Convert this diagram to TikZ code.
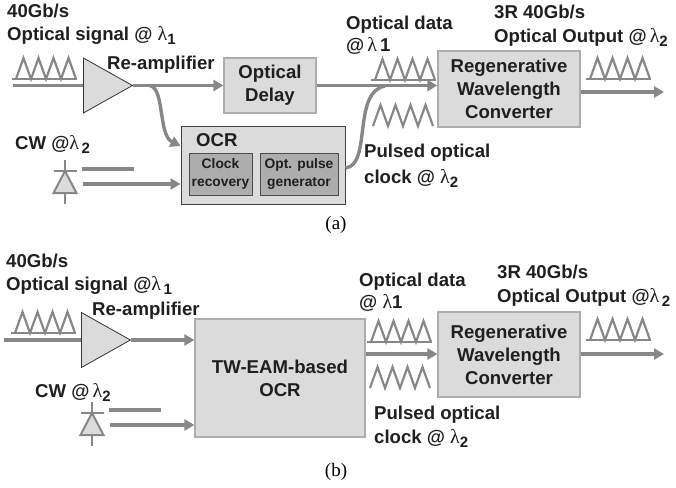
\documentclass[tikz,border=0pt]{standalone}
\usepackage{fontspec}
\setmainfont{Liberation Sans}
\newfontfamily\lamfont{Liberation Serif}
\newfontfamily\capfont{Liberation Serif}
\usetikzlibrary{arrows.meta,positioning,shapes.geometric}
\definecolor{sigline}{gray}{0.53}
\definecolor{boxfill}{gray}{0.86}
\definecolor{boxline}{gray}{0.68}
\definecolor{innerfill}{gray}{0.68}
\definecolor{txt}{gray}{0.12}
\newcommand{\lam}{{\lamfont\mdseries\fontsize{20}{20}\selectfont λ}}
\newcommand{\lamsub}[1]{\lam\raisebox{-4pt}{\fontsize{15}{15}\selectfont #1}}
\tikzset{
    x=1pt,y=-1pt,
    lbl/.style={inner sep=0pt,anchor=base west,text=txt,font=\fontsize{18.6}{22}\selectfont\bfseries},
    nextline/.style={anchor=base west},
    sig/.style={-{Triangle[length=10pt,width=11pt]},line width=3.4pt,draw=sigline},
    bare/.style={line width=3.4pt,draw=sigline},
    wave/.style={line width=2.2pt,draw=sigline,line join=miter},
    block/.style={draw=boxline,line width=1.2pt,fill=boxfill,inner sep=0pt,align=center,text=txt,font=\fontsize{18.6}{23}\selectfont\bfseries},
    ocrbox/.style={draw=black!75,line width=1pt,fill=boxfill,inner sep=0pt},
    inner/.style={draw=black!70,line width=1pt,fill=innerfill,inner sep=0pt,align=center,text=txt,font=\fontsize{13.8}{17.5}\selectfont\bfseries},
    amp/.style={isosceles triangle,isosceles triangle stretches,draw=black!80,line width=0.8pt,fill=boxfill,
        minimum width=55pt,minimum height=49pt,inner sep=0pt,anchor=lower side},
    caption/.style={inner sep=0pt,text=black,font=\capfont\fontsize{19}{19}\selectfont},
    % train of four pulses, with or without the base line
    pics/pulses/.style={code={
        \draw[wave] (0,0) -- ++(7.5,-21) -- ++(7.5,21) -- ++(7.5,-21) -- ++(7.5,21)
            -- ++(7.5,-21) -- ++(7.5,21) -- ++(7.5,-21) -- ++(7.5,21);
    }},
    pics/pulsesbase/.style={code={
        \draw[wave] (-2,0) -- (63,0);
        \draw[wave] (2,0) -- ++(7.5,-21) -- ++(7.5,21) -- ++(7.5,-21) -- ++(7.5,21)
            -- ++(7.5,-21) -- ++(7.5,21) -- ++(7.5,-21) -- ++(7.5,21);
    }},
    pics/diode/.style={code={
        \draw[line width=2pt,draw=sigline] (0,-11) -- (0,33);
        \draw[line width=2pt,draw=sigline] (-11.5,0) -- (11.5,0);
        \draw[line width=2pt,draw=sigline,fill=boxfill] (0,0) -- (11.5,22) -- (-11.5,22) -- cycle;
    }}
}

\begin{document}
\begin{tikzpicture}
    \useasboundingbox (0,0) rectangle (676,487);

    % (a) clock recovery followed by a delay line
    \coordinate (in a) at (13,85.5);
    \coordinate (out a) at (664,92);
    \coordinate (cw a1) at (82,169);
    \coordinate (cw a2) at (134,169);
    \coordinate (cw a3) at (83,184);

    \node[amp] (amp a) at (83,85.5) {};
    \node[block,minimum width=92pt,minimum height=55pt] (delay a) at (270,85.5) {Optical\\Delay};
    \node[block,minimum width=142pt,minimum height=76pt] (rwc a) at (509,89) {Regenerative\\Wavelength\\Converter};
    \node[ocrbox,minimum width=164pt,minimum height=78pt] (ocr a) at (263,165) {};
    \node[inner,minimum width=63pt,minimum height=42pt] (clock a) at (220.5,174) {Clock\\recovery};
    \node[inner,minimum width=78pt,minimum height=42pt,right=7pt of clock a] (pulse a) {Opt. pulse\\generator};

    \draw[bare] (in a) -- (amp a.lower side);
    \draw[sig] (amp a.apex) -- (delay a.west);
    \draw[sig] (delay a.east) -- (rwc a.west |- delay a.east);
    \draw[sig] (rwc a.east |- out a) -- (out a);
    \draw[sig] (amp a.apex) ++(16,0) .. controls (165,88) and (158,135) .. (ocr a.west |- 0,146);
    \draw[bare] (ocr a.east |- 0,168) .. controls (372,165) and (352,92) .. (385,86);
    \draw[bare] (cw a1) -- (cw a2);
    \draw[sig] (cw a3) -- (ocr a.west |- cw a3);

    \pic at (14,79) {pulsesbase};
    \pic at (373,80) {pulsesbase};
    \pic at (373,126) {pulses};
    \pic at (588,79) {pulsesbase};
    \pic at (65,171) {diode};

    \node[lbl] (rate a) at (7,18) {40Gb/s};
    \node[lbl,below=23pt of rate a.base west,nextline] (signal a) {Optical signal @ \lamsub{1}};
    \node[lbl] (ampname a) at (107,69) {Re-amplifier};
    \node[lbl] (cwname a) at (15,149) {CW @\lamsub{\,2}};
    \node[lbl] (ocrname a) at (196,146) {OCR};
    \node[lbl] (data a) at (346,30) {Optical data};
    \node[lbl,below=22pt of data a.base west,nextline] (lamone a) {@\,\lam\,1};
    \node[lbl] (rateout a) at (494,19) {3R 40Gb/s};
    \node[lbl,below=23pt of rateout a.base west,nextline] (output a) {Optical Output @\,\lamsub{2}};
    \node[lbl] (clockname a) at (364,157) {Pulsed optical};
    \node[lbl,below=26pt of clockname a.base west,nextline] (clocklam a) {clock @ \lamsub{2}};
    \node[caption] (cap a) at (336,225) {(a)};

    % (b) the same link with a TW-EAM block
    \coordinate (in b) at (4,340);
    \coordinate (out b) at (664,354);
    \coordinate (cw b1) at (109,410);
    \coordinate (cw b2) at (161,410);
    \coordinate (cw b3) at (110,425);

    \node[amp] (amp b) at (81,340) {};
    \node[block,minimum width=170pt,minimum height=118pt] (eam b) at (280,378) {TW-EAM-based\\OCR};
    \node[block,minimum width=142pt,minimum height=85pt] (rwc b) at (509,354.5) {Regenerative\\Wavelength\\Converter};

    \draw[bare] (in b) -- (amp b.lower side);
    \draw[sig] (amp b.apex) -- (eam b.west |- amp b.apex);
    \draw[sig] (eam b.east |- out b) -- (rwc b.west |- out b);
    \draw[sig] (rwc b.east |- out b) -- (out b);
    \draw[bare] (cw b1) -- (cw b2);
    \draw[sig] (cw b3) -- (eam b.west |- cw b3);

    \pic at (13,333) {pulsesbase};
    \pic at (369,342) {pulsesbase};
    \pic at (370,388) {pulses};
    \pic at (588,340) {pulsesbase};
    \pic at (92,413) {diode};

    \node[lbl] (rate b) at (6,267) {40Gb/s};
    \node[lbl,below=23pt of rate b.base west,nextline] (signal b) {Optical signal @\lamsub{\,1}};
    \node[lbl] (ampname b) at (92,315) {Re-amplifier};
    \node[lbl] (cwname b) at (35,397) {CW @\,\lamsub{2}};
    \node[lbl] (data b) at (359,286) {Optical data};
    \node[lbl,below=22pt of data b.base west,nextline] (lamone b) {@ \lam 1};
    \node[lbl] (rateout b) at (497,278) {3R 40Gb/s};
    \node[lbl,below=24pt of rateout b.base west,nextline] (output b) {Optical Output @\lamsub{\,2}};
    \node[lbl] (clockname b) at (374,419) {Pulsed optical};
    \node[lbl,below=24pt of clockname b.base west,nextline] (clocklam b) {clock @ \lamsub{2}};
    \node[caption] (cap b) at (336,472) {(b)};
\end{tikzpicture}
\end{document}
